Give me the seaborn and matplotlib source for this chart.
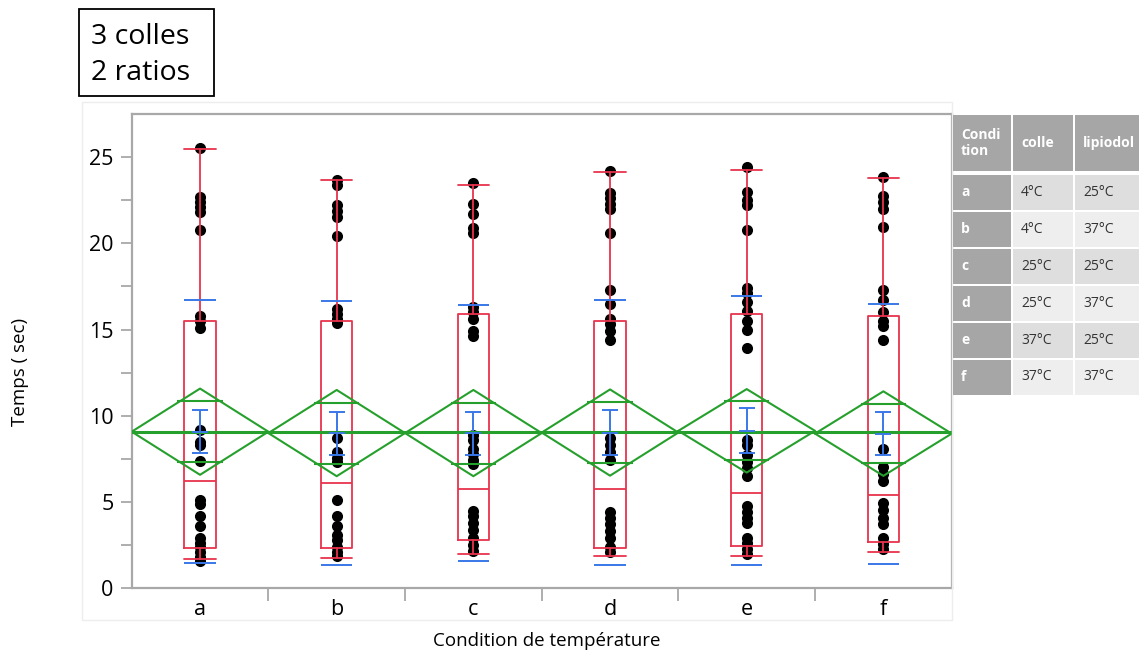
import numpy as np
import pandas as pd
import seaborn as sns
import matplotlib.pyplot as plt
from matplotlib.patches import Rectangle

sns.set_style('white')
plt.rcParams['font.family'] = ['Open Sans', 'DejaVu Sans']
plt.rcParams['text.color'] = 'black'
plt.rcParams['xtick.color'] = 'black'
plt.rcParams['ytick.color'] = 'black'

# valeurs (temps en sec)
categories = ['a', 'b', 'c', 'd', 'e', 'f']

temps_a = [25.5, 22.7, 22.4, 22.1, 21.8, 20.8, 15.8, 15.5, 15.1, 9.2, 8.5, 8.3, 7.4,
           5.1, 4.9, 4.2, 3.6, 2.9, 2.6, 2.4, 2.1, 1.8, 1.6]
temps_b = [23.7, 23.4, 22.2, 21.9, 21.5, 20.4, 16.2, 15.9, 15.6, 15.4, 8.7, 7.9, 7.55, 7.3,
           5.1, 4.2, 3.6, 3.1, 2.8, 2.4, 2.1, 1.9]
temps_c = [23.5, 22.3, 21.7, 20.9, 20.6, 16.3, 16.0, 15.6, 14.9, 14.6, 8.9, 8.6, 8.1, 7.8,
           7.45, 7.2, 4.5, 4.2, 3.8, 3.4, 2.9, 2.5, 2.15]
temps_d = [24.2, 22.9, 22.65, 22.3, 22.0, 20.6, 17.3, 16.5, 15.6, 15.3, 14.9, 14.4, 8.7, 8.3,
           7.9, 7.45, 4.4, 4.1, 3.7, 3.3, 2.9, 2.4, 2.1]
temps_e = [24.4, 23.0, 22.5, 22.2, 20.8, 17.4, 17.1, 16.6, 16.1, 15.5, 14.95, 13.95, 8.6, 8.3,
           7.7, 7.35, 7.0, 6.5, 4.75, 4.4, 4.1, 3.8, 2.9, 2.6, 2.25, 1.96]
temps_f = [23.85, 22.75, 22.4, 22.0, 20.95, 17.3, 16.7, 16.0, 15.5, 15.2, 14.4, 8.1, 7.06, 6.6,
           6.2, 4.95, 4.55, 4.1, 3.7, 2.9, 2.55, 2.25]

# statistiques par condition (box plot, moyenne, ecart-type, erreur std, IC 95%)
q1 = [2.35, 2.35, 2.79, 2.35, 2.44, 2.67]
mediane = [6.24, 6.10, 5.76, 5.76, 5.52, 5.43]
q3 = [15.47, 15.47, 15.92, 15.47, 15.92, 15.78]
moust_bas = [1.67, 1.77, 2.00, 1.90, 1.90, 2.10]
moust_haut = [25.45, 23.67, 23.36, 24.13, 24.23, 23.77]
moyenne = [9.08, 9.00, 9.00, 9.03, 9.13, 8.97]
ecart_type = [7.64, 7.63, 7.44, 7.68, 7.80, 7.54]
erreur_std = [1.25, 1.25, 1.25, 1.30, 1.30, 1.25]
ic95 = [2.50, 2.50, 2.50, 2.50, 2.42, 2.45]
moyenne_globale = 9.04

# tableau des conditions
tab_condition = ['a', 'b', 'c', 'd', 'e', 'f']
tab_colle = ['4°C', '4°C', '25°C', '25°C', '37°C', '37°C']
tab_lipiodol = ['25°C', '37°C', '25°C', '37°C', '25°C', '37°C']

rouge = '#e8344e'
bleu = '#3a78e8'
vert = '#26a02c'
gris = '#a8a8a8'

df = pd.DataFrame({
    'condition': np.repeat(categories, [len(t) for t in [temps_a, temps_b, temps_c, temps_d, temps_e, temps_f]]),
    'temps': temps_a + temps_b + temps_c + temps_d + temps_e + temps_f,
})

W, H = 1139, 655
fig = plt.figure(figsize=(W / 100, H / 100), dpi=100)
ax = fig.add_axes([131.7 / W, 66.7 / H, 820 / W, 474.3 / H])

sns.stripplot(data=df, x='condition', y='temps', order=categories, jitter=False,
              color='black', size=8, linewidth=0, ax=ax, zorder=2)

pos = np.arange(len(categories))

# box plots
stats = [dict(med=m, q1=a, q3=b, whislo=lo, whishi=hi, fliers=[])
         for m, a, b, lo, hi in zip(mediane, q1, q3, moust_bas, moust_haut)]
ax.bxp(stats, positions=pos, widths=0.23, capwidths=0.23, showfliers=False,
       manage_ticks=False, zorder=3,
       boxprops=dict(color=rouge, lw=1.3), whiskerprops=dict(color=rouge, lw=1.3),
       capprops=dict(color=rouge, lw=1.3), medianprops=dict(color=rouge, lw=1.3))

# lignes ecart-type
moy = np.array(moyenne)
sd = np.array(ecart_type)
ax.hlines(moy + sd, pos - 0.115, pos + 0.115, color=bleu, lw=1.4, zorder=3)
ax.hlines(moy - sd, pos - 0.115, pos + 0.115, color=bleu, lw=1.4, zorder=3)

# barres d'erreur de la moyenne
ax.errorbar(pos, moy, yerr=erreur_std, fmt='_', color=bleu, ms=12, mew=1.4,
            elinewidth=1.4, capsize=6, capthick=1.4, zorder=4)

# losanges des moyennes
ic = np.array(ic95)
ax.axhline(moyenne_globale, color=vert, lw=2.2, zorder=4)
for i in pos:
    ax.plot([i - 0.5, i, i + 0.5, i, i - 0.5],
            [moy[i], moy[i] + ic[i], moy[i], moy[i] - ic[i], moy[i]],
            color=vert, lw=1.5, zorder=4)
    d = ic[i] / np.sqrt(2)
    half = 0.5 * (1 - 1 / np.sqrt(2)) + 0.02
    ax.hlines([moy[i] + d, moy[i] - d], i - half, i + half, color=vert, lw=1.5, zorder=4)

ax.set_xlim(-0.5, 5.5)
ax.set_ylim(0, 27.5)
ax.set_yticks([0, 5, 10, 15, 20, 25])
ax.set_yticks([2.5, 7.5, 12.5, 17.5, 22.5], minor=True)
ax.set_xticks(pos, categories)
ax.set_xticks(pos[:-1] + 0.5, minor=True)
ax.tick_params(axis='y', which='both', length=8, width=1.3, color=gris, labelsize=15.5,
               pad=5, left=True, labelcolor='black')
ax.tick_params(axis='x', which='major', length=0, labelsize=15.5, pad=8, labelcolor='black')
ax.tick_params(axis='x', which='minor', length=9, width=1.3, color=gris, bottom=True)
ax.set_xlabel('')
ax.set_ylabel('')
for s in ax.spines.values():
    s.set_color(gris)
    s.set_linewidth(1.6)

fig.text(20 / W, 1 - 372 / H, 'Temps ( sec)', rotation=90, ha='center', va='center', fontsize=13.5)
fig.text(547 / W, 1 - 641 / H, 'Condition de température', ha='center', va='center', fontsize=13.5)

# calque en pixels pour le cadre et le tableau
ov = fig.add_axes([0, 0, 1, 1])
ov.set_xlim(0, W)
ov.set_ylim(H, 0)
ov.set_axis_off()

ov.add_patch(Rectangle((81.7, 101.7), 870, 518.3, fill=False, ec='#ededed', lw=1))
ov.add_patch(Rectangle((79, 9), 135, 87, fc='white', ec='black', lw=1.3))
ov.text(91, 44, '3 colles', fontsize=20.5, va='baseline')
ov.text(91, 80, '2 ratios', fontsize=20.5, va='baseline')

cols = [(953, 58), (1013, 60), (1075, 64)]
ov_head = ['Condi\ntion', 'colle', 'lipiodol']
for (x0, w), txt in zip(cols, ov_head):
    ov.add_patch(Rectangle((x0, 115), w, 56, fc='#a6a6a6', ec='none'))
    ov.text(x0 + 8, 143, txt, color='white', fontsize=10, fontweight='bold',
            va='center', linespacing=1.2)

row_h, gap, y0 = 35.0, 1.9, 175
for r, (c, co, li) in enumerate(zip(tab_condition, tab_colle, tab_lipiodol)):
    y = y0 + r * (row_h + gap)
    light = '#dedede' if r % 2 == 0 else '#eeeeee'
    for k, ((x0, w), txt) in enumerate(zip(cols, [c, co, li])):
        ov.add_patch(Rectangle((x0, y), w, row_h, fc='#a6a6a6' if k == 0 else light, ec='none'))
        ov.text(x0 + 8, y + row_h / 2, txt, fontsize=10, va='center',
                color='white' if k == 0 else '#333333',
                fontweight='bold' if k == 0 else 'normal')

fig.savefig('out.png', dpi=100)
